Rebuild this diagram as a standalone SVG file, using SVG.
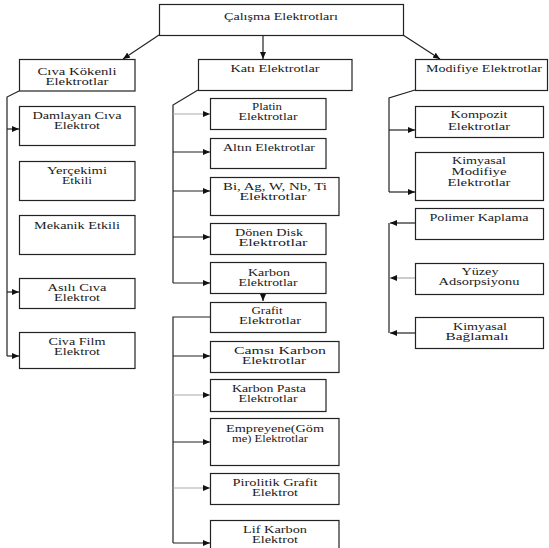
<svg xmlns="http://www.w3.org/2000/svg" width="549" height="548" viewBox="0 0 549 548">
<defs>
<marker id="ah" viewBox="0 0 7 6" markerWidth="7" markerHeight="6" refX="7" refY="3" orient="auto" markerUnits="userSpaceOnUse">
<path d="M0,0 L7,3 L0,6 z" fill="#111"/>
</marker>
</defs>
<style>
.b{fill:#fff;stroke:#222;stroke-width:1.2}
.t{font-family:"Liberation Serif","Times New Roman",serif;font-size:10.5px;fill:#1a1a1a;text-anchor:middle}
.c{fill:none;stroke:#222;stroke-width:1.2}
.g{fill:none;stroke:#aaa;stroke-width:1.2}
.a{marker-end:url(#ah)}
</style>
<rect width="549" height="548" fill="#fff"/>
<g id="connectors">
<line class="c a" x1="159" y1="35" x2="123" y2="59"/>
<line class="c a" x1="263" y1="35" x2="263" y2="59"/>
<line class="c a" x1="403" y1="35" x2="440" y2="59"/>
<polyline class="c" points="19,91 7,97 7,356"/>
<line class="c a" x1="7" y1="129" x2="19" y2="129"/>
<line class="c a" x1="7" y1="292" x2="19" y2="292"/>
<line class="c a" x1="7" y1="356" x2="19" y2="356"/>
<polyline class="c" points="198,90 173,105 173,283"/>
<line class="g a" x1="173" y1="114" x2="210" y2="114"/>
<line class="c a" x1="173" y1="152" x2="210" y2="152"/>
<line class="c a" x1="173" y1="191" x2="210" y2="191"/>
<line class="c a" x1="173" y1="237" x2="210" y2="237"/>
<line class="c a" x1="173" y1="283" x2="210" y2="283"/>
<line class="c a" x1="263" y1="293" x2="263" y2="301"/>
<polyline class="c" points="210,317 173,317 173,543"/>
<line class="c a" x1="173" y1="356" x2="210" y2="356"/>
<line class="g a" x1="173" y1="395" x2="210" y2="395"/>
<line class="c a" x1="173" y1="442" x2="210" y2="442"/>
<line class="g a" x1="173" y1="488" x2="210" y2="488"/>
<line class="c a" x1="173" y1="543" x2="210" y2="543"/>
<polyline class="c" points="415,90 389,98 389,192"/>
<line class="c a" x1="389" y1="130" x2="415" y2="130"/>
<line class="c a" x1="389" y1="192" x2="415" y2="192"/>
<line class="c" x1="389" y1="223" x2="389" y2="333"/>
<line class="c a" x1="415" y1="223" x2="390" y2="223"/>
<line class="g a" x1="415" y1="278" x2="390" y2="278"/>
<line class="c a" x1="415" y1="333" x2="390" y2="333"/>
</g>
<g id="n-root"><rect class="b" x="159.5" y="4.5" width="244" height="31"/><text class="t" x="281" y="19.5" textLength="114" lengthAdjust="spacingAndGlyphs">Çalışma Elektrotları</text></g>
<g id="n-civa"><rect class="b" x="19.5" y="59.5" width="115.5" height="31.5"/><text class="t" x="77" y="75" textLength="79" lengthAdjust="spacingAndGlyphs">Cıva Kökenli</text><text class="t" x="77" y="84.5" textLength="63" lengthAdjust="spacingAndGlyphs">Elektrotlar</text></g>
<g id="n-kati"><rect class="b" x="198.5" y="59.5" width="153.5" height="31"/><text class="t" x="275" y="71.5" textLength="89" lengthAdjust="spacingAndGlyphs">Katı Elektrotlar</text></g>
<g id="n-modifiye"><rect class="b" x="415.5" y="59.5" width="132" height="31"/><text class="t" x="484" y="71.5" textLength="116" lengthAdjust="spacingAndGlyphs">Modifiye Elektrotlar</text></g>
<g id="n-damlayan"><rect class="b" x="19.5" y="106.5" width="115.5" height="39"/><text class="t" x="77" y="119" textLength="89" lengthAdjust="spacingAndGlyphs">Damlayan Cıva</text><text class="t" x="77" y="129" textLength="46" lengthAdjust="spacingAndGlyphs">Elektrot</text></g>
<g id="n-yercekimi"><rect class="b" x="19.5" y="161.5" width="115.5" height="39"/><text class="t" x="77" y="173.5" textLength="60" lengthAdjust="spacingAndGlyphs">Yerçekimi</text><text class="t" x="77" y="183.5" textLength="30" lengthAdjust="spacingAndGlyphs">Etkili</text></g>
<g id="n-mekanik"><rect class="b" x="19.5" y="215.5" width="115.5" height="39"/><text class="t" x="77" y="228.5" textLength="86" lengthAdjust="spacingAndGlyphs">Mekanik Etkili</text></g>
<g id="n-asili"><rect class="b" x="19.5" y="278.5" width="115.5" height="30"/><text class="t" x="77" y="290.5" textLength="59" lengthAdjust="spacingAndGlyphs">Asılı Cıva</text><text class="t" x="77" y="300.5" textLength="46" lengthAdjust="spacingAndGlyphs">Elektrot</text></g>
<g id="n-civafilm"><rect class="b" x="19.5" y="332.5" width="115.5" height="36"/><text class="t" x="77" y="344.5" textLength="57" lengthAdjust="spacingAndGlyphs">Civa Film</text><text class="t" x="77" y="354.5" textLength="46" lengthAdjust="spacingAndGlyphs">Elektrot</text></g>
<g id="n-platin"><rect class="b" x="210.5" y="98.5" width="115.5" height="31"/><text class="t" x="267" y="109.5" textLength="30" lengthAdjust="spacingAndGlyphs">Platin</text><text class="t" x="268" y="119.5" textLength="59" lengthAdjust="spacingAndGlyphs">Elektrotlar</text></g>
<g id="n-altin"><rect class="b" x="210.5" y="138.5" width="115.5" height="30"/><text class="t" x="269" y="150.5" textLength="92" lengthAdjust="spacingAndGlyphs">Altın Elektrotlar</text></g>
<g id="n-bi"><rect class="b" x="210.5" y="177.5" width="128.5" height="38"/><text class="t" x="275" y="189.5" textLength="104" lengthAdjust="spacingAndGlyphs">Bi, Ag, W, Nb, Ti</text><text class="t" x="273" y="199.5" textLength="67" lengthAdjust="spacingAndGlyphs">Elektrotlar</text></g>
<g id="n-donen"><rect class="b" x="210.5" y="223.5" width="115.5" height="31"/><text class="t" x="269" y="235.5" textLength="68" lengthAdjust="spacingAndGlyphs">Dönen Disk</text><text class="t" x="273" y="246" textLength="69" lengthAdjust="spacingAndGlyphs">Elektrotlar</text></g>
<g id="n-karbon"><rect class="b" x="210.5" y="262.5" width="115.5" height="31"/><text class="t" x="269" y="275.5" textLength="42" lengthAdjust="spacingAndGlyphs">Karbon</text><text class="t" x="268" y="285.5" textLength="59" lengthAdjust="spacingAndGlyphs">Elektrotlar</text></g>
<g id="n-grafit"><rect class="b" x="210.5" y="302.5" width="115.5" height="30"/><text class="t" x="267" y="313.5" textLength="31" lengthAdjust="spacingAndGlyphs">Grafit</text><text class="t" x="270" y="323.5" textLength="62" lengthAdjust="spacingAndGlyphs">Elektrotlar</text></g>
<g id="n-camsi"><rect class="b" x="210.5" y="341.5" width="128.5" height="31"/><text class="t" x="280" y="353.5" textLength="92" lengthAdjust="spacingAndGlyphs">Camsı Karbon</text><text class="t" x="274" y="363.5" textLength="64" lengthAdjust="spacingAndGlyphs">Elektrotlar</text></g>
<g id="n-karbonpasta"><rect class="b" x="210.5" y="379.5" width="115.5" height="32"/><text class="t" x="269" y="391.5" textLength="74" lengthAdjust="spacingAndGlyphs">Karbon Pasta</text><text class="t" x="268" y="402" textLength="59" lengthAdjust="spacingAndGlyphs">Elektrotlar</text></g>
<g id="n-empreyene"><rect class="b" x="210.5" y="418.5" width="128.5" height="47"/><text class="t" x="275" y="431.5" textLength="98" lengthAdjust="spacingAndGlyphs">Empreyene(Göm</text><text class="t" x="270" y="441.5" textLength="76" lengthAdjust="spacingAndGlyphs">me) Elektrotlar</text></g>
<g id="n-pirolitik"><rect class="b" x="210.5" y="473.5" width="128.5" height="31"/><text class="t" x="275" y="485.5" textLength="85" lengthAdjust="spacingAndGlyphs">Pirolitik Grafit</text><text class="t" x="275" y="496" textLength="46" lengthAdjust="spacingAndGlyphs">Elektrot</text></g>
<g id="n-lif"><rect class="b" x="210.5" y="520.5" width="128.5" height="40"/><text class="t" x="275" y="532.5" textLength="64" lengthAdjust="spacingAndGlyphs">Lif Karbon</text><text class="t" x="275" y="542.5" textLength="46" lengthAdjust="spacingAndGlyphs">Elektrot</text></g>
<g id="n-kompozit"><rect class="b" x="415.5" y="106.5" width="128" height="31"/><text class="t" x="479" y="117.5" textLength="57" lengthAdjust="spacingAndGlyphs">Kompozit</text><text class="t" x="479" y="129.5" textLength="62" lengthAdjust="spacingAndGlyphs">Elektrotlar</text></g>
<g id="n-kimmod"><rect class="b" x="415.5" y="152.5" width="128" height="48"/><text class="t" x="479" y="163.5" textLength="54" lengthAdjust="spacingAndGlyphs">Kimyasal</text><text class="t" x="479" y="174.5" textLength="55" lengthAdjust="spacingAndGlyphs">Modifiye</text><text class="t" x="479" y="185.5" textLength="63" lengthAdjust="spacingAndGlyphs">Elektrotlar</text></g>
<g id="n-polimer"><rect class="b" x="415.5" y="208.5" width="128" height="31"/><text class="t" x="479" y="220.5" textLength="99" lengthAdjust="spacingAndGlyphs">Polimer Kaplama</text></g>
<g id="n-yuzey"><rect class="b" x="415.5" y="263.5" width="128" height="31"/><text class="t" x="480" y="274.5" textLength="37" lengthAdjust="spacingAndGlyphs">Yüzey</text><text class="t" x="479" y="284.5" textLength="81" lengthAdjust="spacingAndGlyphs">Adsorpsiyonu</text></g>
<g id="n-kimbag"><rect class="b" x="415.5" y="317.5" width="128" height="31"/><text class="t" x="480" y="329.5" textLength="54" lengthAdjust="spacingAndGlyphs">Kimyasal</text><text class="t" x="477" y="339.5" textLength="63" lengthAdjust="spacingAndGlyphs">Bağlamalı</text></g>
</svg>
